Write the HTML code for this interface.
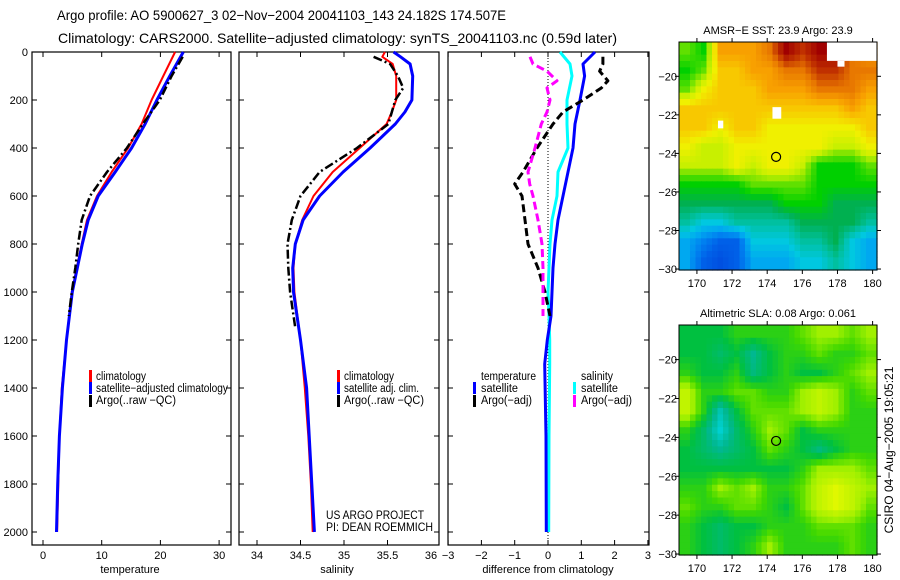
<!DOCTYPE html>
<html><head><meta charset="utf-8"><style>
html,body{margin:0;padding:0;background:#fff;}
svg{display:block;font-family:"Liberation Sans",sans-serif;}
</style></head><body>
<svg id="fig" width="900" height="580" viewBox="0 0 900 580" xmlns="http://www.w3.org/2000/svg">
<text x="57" y="20" font-size="14" textLength="449" lengthAdjust="spacingAndGlyphs">Argo profile: AO 5900627_3 02−Nov−2004 20041103_143 24.182S 174.507E</text>
<text x="58" y="43" font-size="14" textLength="559" lengthAdjust="spacingAndGlyphs">Climatology: CARS2000. Satellite−adjusted climatology: synTS_20041103.nc (0.59d later)</text>
<text transform="translate(893,450) rotate(-90)" text-anchor="middle" font-size="12">CSIRO 04−Aug−2005 19:05:21</text>
<g id="plots"></g>
</svg>
<script>
// ---------- data ----------
const tDepth = [0,100,200,300,400,500,600,700,800,1000,1200,1400,1600,1800,2000];
const tempClim = [22.5,20.5,18.5,16.8,14.5,11.7,9.2,7.5,6.6,4.9,4.0,3.2,2.8,2.6,2.4];
const tempSat  = [23.9,21.6,19.4,17.4,15.1,12.3,9.4,7.7,6.7,5.0,4.0,3.3,2.8,2.5,2.3];
const aDepth = [20,100,200,300,400,500,600,700,800,900,1000,1100];
const tempArgo = [23.8,21.9,19.9,17.0,14.3,10.9,8.0,6.6,6.0,5.5,4.9,4.4];
const sDepth = [0,20,50,100,200,250,300,400,500,600,700,800,900,1000,1200,1400,1600,1800,2000];
const salClim = [35.47,35.44,35.56,35.60,35.60,35.55,35.49,35.18,34.87,34.65,34.52,34.44,34.42,34.43,34.50,34.55,34.59,34.62,34.64];
const salSat  = [35.57,35.65,35.76,35.79,35.78,35.70,35.59,35.30,34.99,34.72,34.53,34.44,34.41,34.42,34.50,34.57,34.60,34.63,34.66];
const saDepth = [20,50,100,150,200,300,400,500,600,700,800,900,1000,1150];
const salArgo = [35.34,35.53,35.62,35.68,35.59,35.51,35.15,34.72,34.50,34.40,34.35,34.36,34.38,34.44];
const dDepth = [0,50,100,200,300,400,500,600,700,800,900,1000,1100,1200,1300,1600,2000];
const dTempSat = [1.41,1.05,1.10,0.96,0.81,0.75,0.60,0.45,0.30,0.21,0.15,0.12,0.09,-0.02,-0.10,-0.06,-0.05];
const dSalSat  = [0.36,0.66,0.72,0.57,0.57,0.60,0.30,0.27,0.12,0.06,0.03,0.00,0.03,0.05,0.05,0.03,0.02];
const daDepth = [20,50,80,120,150,200,250,300,400,500,550,600,700,800,900,1000,1100];
const dTempArgo = [1.65,1.65,1.55,1.80,1.60,1.05,0.45,0.15,-0.33,-0.75,-1.00,-0.78,-0.69,-0.60,-0.30,-0.09,0.06];
const dSalArgo  = [-0.54,-0.45,-0.03,0.27,-0.03,0.06,-0.03,-0.20,-0.39,-0.60,-0.55,-0.45,-0.30,-0.18,-0.15,-0.15,-0.15];
const depthTicks = [0,200,400,600,800,1000,1200,1400,1600,1800,2000];
const tempTicks = [0,10,20,30];
const salTicks = [34,34.5,35,35.5,36];
const salTickLabels = ["34","34.5","35","35.5","36"];
const diffTicks = [-3,-2,-1,0,1,2,3];
const latTicks = [-20,-22,-24,-26,-28,-30];
const lonTicks = [170,172,174,176,178,180];
const sstGrid = [
[23,22.5,25,25,25,25.5,26.5,26,26.5,26.5,25.5,25],
[22.5,23,24.5,24.5,25,25,25.5,25.5,26,26,25.5,25.5],
[23,24,24.5,24.5,24.5,25,25,25,25.5,25.5,25.5,25],
[24.5,24.5,24.5,24.5,24.5,24.5,24.5,24.5,24.5,24.5,25,24.5],
[24.5,24.5,24,24.5,24.5,24,24,24,24,24,24,24.5],
[24,23.5,23.5,24,24,24,24,24,24,23.5,23.5,24],
[23.5,23.5,23.5,24,23.5,24,24,23.5,22.5,22.5,22.5,23],
[22.5,22.5,22.5,22.5,23,23,23,23,22.5,22.5,22.5,22.5],
[22,22,22,22,22,22,22.5,22.5,22.5,22,22,22],
[21.5,21,21,21.5,21.5,21.5,21.5,22,22,22,22,21.5],
[20.5,20,19.5,19.5,21,21,21,21.5,21.5,22,21,20.5],
[20.5,19.5,19,19.5,20.5,20.5,20.5,21,21,21.5,21,20.5]];
const slaGrid = [
[0.02,0.02,0.02,0.04,0.04,0.04,0.04,0.06,0.08,0.08,0.06,0.08],
[0.02,0.02,0.0,0.02,-0.02,0.02,0.04,0.04,0.06,0.04,0.04,0.06],
[0.04,0.02,0.02,0.04,-0.01,0.02,0.04,0.02,0.02,0.04,0.06,0.08],
[0.10,0.04,0.04,0.06,0.06,0.04,0.04,0.08,0.10,0.08,0.04,0.06],
[0.10,0.04,-0.04,0.02,0.06,0.06,0.06,0.08,0.10,0.08,0.04,0.04],
[0.04,0.0,-0.06,0.0,0.04,0.08,0.06,0.02,0.04,0.04,0.04,0.04],
[0.02,0.0,-0.02,0.0,0.02,0.06,0.04,0.02,-0.01,0.02,0.04,0.04],
[0.02,0.02,0.02,0.02,0.02,0.02,0.02,0.04,0.08,0.08,0.08,0.06],
[0.04,0.04,0.08,0.06,0.08,0.04,0.04,0.06,0.10,0.12,0.10,0.08],
[0.06,0.04,0.04,0.06,0.06,0.04,0.02,0.06,0.10,0.12,0.10,0.06],
[0.04,0.02,0.0,0.02,0.02,0.04,0.04,0.04,0.06,0.06,0.06,0.04],
[0.04,0.02,0.0,0.02,0.04,0.08,0.04,0.04,0.04,0.04,0.06,0.04]];
const floatLon = 174.507, floatLat = -24.182;

// ---------- helpers ----------
const NS = "http://www.w3.org/2000/svg";
const root = document.getElementById('plots');
function mk(tag, attrs, parent){const e=document.createElementNS(NS,tag);for(const k in attrs)e.setAttribute(k,attrs[k]);(parent||root).appendChild(e);return e;}
const yD = d => 52 + d*0.24;
function polyline(xs, ds, fx, color, w, dash, name){
  const pts = xs.map((v,i)=>fx(v).toFixed(1)+','+yD(ds[i]).toFixed(1)).join(' ');
  const p = mk('polyline',{points:pts,fill:'none',stroke:color,'stroke-width':w,'stroke-linejoin':'round'});
  if(dash) p.setAttribute('stroke-dasharray',dash);
  
  
}
function frame(x0,x1,name){
  const r = mk('rect',{x:x0,y:52,width:x1-x0,height:493,fill:'none',stroke:'#000','stroke-width':1.2});
  
  
}
function xTicks(vals, labels, fx, axisName){
  vals.forEach((v,i)=>{
    const x=fx(v);
    mk('line',{x1:x,x2:x,y1:545,y2:540,stroke:'#000'});
    mk('line',{x1:x,x2:x,y1:52,y2:57,stroke:'#000'});
    const t=mk('text',{x:x,y:559,'font-size':11,'text-anchor':'middle'});
    t.textContent=labels[i];
    
    
  });
}
function yTickMarks(x0,x1){
  depthTicks.forEach(d=>{const y=yD(d);mk('line',{x1:x0,x2:x0+5,y1:y,y2:y,stroke:'#000'});mk('line',{x1:x1,x2:x1-5,y1:y,y2:y,stroke:'#000'});});
}
function label(x,y,txt,name,size,anchor,len){
  const t=mk('text',{x:x,y:y,'font-size':size||10.5,'text-anchor':anchor||'start'});
  if(len){t.setAttribute('textLength',len);t.setAttribute('lengthAdjust','spacingAndGlyphs');}
  t.textContent=txt;
  
  
  return t;
}
function legendSwatch(x,y,color,name){
  const r=mk('rect',{x:x,y:y-10,width:3,height:12,fill:color});
  
  
}

// ---------- temperature panel ----------
const xT = v => 43 + v*5.87;
frame(32,231,'temperature-panel-frame');
yTickMarks(32,231);
depthTicks.forEach(d=>{label(28,yD(d)+4,String(d),'depth-tick-label',11,'end');});
xTicks(tempTicks, tempTicks.map(String), xT, 'temperature');
label(130,573,'temperature','temperature-axis-title',11,'middle');
polyline(tempClim,tDepth,xT,'#ff0000',2,null,'temperature-climatology-line');
polyline(tempSat,tDepth,xT,'#0000ff',3,null,'temperature-satellite-line');
polyline(tempArgo,aDepth,xT,'#000000',2.5,'9,3,2,3','temperature-argo-line');
legendSwatch(89,380,'#ff0000','legend-climatology-swatch');
label(96,380,'climatology','legend-climatology',11.5,'start',50);
legendSwatch(89,392,'#0000ff','legend-satellite-swatch');
label(96,392,'satellite−adjusted climatology','legend-satellite',11.5,'start',132);
legendSwatch(89,405,'#000','legend-argo-swatch');
label(96,404,'Argo(..raw −QC)','legend-argo',11.5,'start',80);

// ---------- salinity panel ----------
const xS = v => 257 + (v-34)*87;
frame(239,439,'salinity-panel-frame');
yTickMarks(239,439);
xTicks(salTicks.slice(0,4), salTickLabels.slice(0,4), xS, 'salinity');
label(431,559,salTickLabels[4],'salinity-tick-label',11,'middle');
label(337,573,'salinity','salinity-axis-title',11,'middle');
polyline(salClim,sDepth,xS,'#ff0000',2,null,'salinity-climatology-line');
polyline(salSat,sDepth,xS,'#0000ff',3,null,'salinity-satellite-line');
polyline(salArgo,saDepth,xS,'#000000',2.5,'9,3,2,3','salinity-argo-line');
legendSwatch(337,380,'#ff0000','legend-sal-climatology-swatch');
label(344,380,'climatology','legend-sal-climatology',11.5,'start',50);
legendSwatch(337,392,'#0000ff','legend-sal-satellite-swatch');
label(344,392,'satellite adj. clim.','legend-sal-satellite',11.5,'start',75);
legendSwatch(337,405,'#000','legend-sal-argo-swatch');
label(344,404,'Argo(..raw −QC)','legend-sal-argo',11.5,'start',80);
label(326,519,'US ARGO PROJECT','project-label',12,'start',98);
label(326,531,'PI: DEAN ROEMMICH','pi-label',12,'start',107);

// ---------- difference panel ----------
const xDf = v => 548 + v*33.3;
frame(448,649,'difference-panel-frame');
yTickMarks(448,649);
xTicks(diffTicks, diffTicks.map(v=>v<0?'−'+(-v):String(v)), xDf, 'difference');
label(548,573,'difference from climatology','difference-axis-title',11,'middle');
const zl=mk('line',{x1:548,x2:548,y1:52,y2:540,stroke:'#000','stroke-width':1,'stroke-dasharray':'1,2'});


polyline(dSalSat,dDepth,xDf,'#00ffff',3,null,'diff-salinity-satellite-line');
polyline(dTempSat,dDepth,xDf,'#0000ff',3,null,'diff-temperature-satellite-line');
polyline(dTempArgo,daDepth,xDf,'#000000',3,'8,4','diff-temperature-argo-line');
polyline(dSalArgo,daDepth,xDf,'#ff00ff',3,'8,4','diff-salinity-argo-line');
label(481,380,'temperature','legend-temperature-header',11.5,'start',55);
legendSwatch(473,392,'#0000ff','legend-diff-temp-sat-swatch');
label(481,392,'satellite','legend-diff-temp-sat',11.5,'start',37);
legendSwatch(473,405,'#000','legend-diff-temp-argo-swatch');
label(481,404,'Argo(−adj)','legend-diff-temp-argo',11.5,'start',51);
label(581,380,'salinity','legend-salinity-header',11.5,'start',32);
legendSwatch(573,392,'#00ffff','legend-diff-sal-sat-swatch');
label(581,392,'satellite','legend-diff-sal-sat',11.5,'start',37);
legendSwatch(573,405,'#ff00ff','legend-diff-sal-argo-swatch');
label(581,404,'Argo(−adj)','legend-diff-sal-argo',11.5,'start',51);

// ---------- maps ----------
function rgb(h){return [parseInt(h.substr(1,2),16),parseInt(h.substr(3,2),16),parseInt(h.substr(5,2),16)];}
function lerpColor(stops, v){
  let c=stops[stops.length-1][1];
  if(v<=stops[0][0]) c=stops[0][1];
  else for(let i=1;i<stops.length;i++){
    if(v<=stops[i][0]){
      const a=stops[i-1],b=stops[i],t=(v-a[0])/(b[0]-a[0]);
      c=[0,1,2].map(k=>Math.round(a[1][k]+(b[1][k]-a[1][k])*t));
      break;
    }
  }
  return 'rgb('+c.join(',')+')';
}
const sstStops=[[19,'#0050e0'],[19.5,'#0060e8'],[20,'#0080f0'],[20.5,'#00a8f0'],[21,'#00c8e0'],[21.5,'#00c0a0'],[22,'#00b050'],[22.5,'#00d000'],[23,'#60e000'],[23.5,'#c8f000'],[24,'#f0f000'],[24.5,'#f8c800'],[25,'#f8a000'],[25.5,'#e87800'],[26,'#c03000'],[26.5,'#a00000']].map(s=>[s[0],rgb(s[1])]);
const slaStops=[[-0.06,'#00d0d0'],[-0.02,'#00b890'],[0.02,'#00c040'],[0.05,'#40d800'],[0.08,'#a0f000'],[0.12,'#e0f800']].map(s=>[s[0],rgb(s[1])]);

function drawMap(x0,x1,y0,y1,grid,stops,title,name,holes){
  const g=mk('g',{});
  
  
  const lonMin=168.98, lonMax=180.25, latTop=-18.22, latBot=-30.05;
  const fx=lon=>x0+(lon-lonMin)/(lonMax-lonMin)*(x1-x0);
  const fy=lat=>y0+(latTop-lat)/(latTop-latBot)*(y1-y0);
  const rows=grid.length, cols=grid[0].length, sub=3;
  const R=rows*sub, C=cols*sub, cw=(x1-x0)/C, ch=(y1-y0)/R;
  function sample(r,c){
    const gr=Math.min(Math.max((r+0.5)/sub-0.5,0),rows-1), gc=Math.min(Math.max((c+0.5)/sub-0.5,0),cols-1);
    const r0=Math.floor(gr), c0=Math.floor(gc), r1=Math.min(r0+1,rows-1), c1=Math.min(c0+1,cols-1);
    const tr=gr-r0, tc=gc-c0;
    return grid[r0][c0]*(1-tr)*(1-tc)+grid[r0][c1]*(1-tr)*tc+grid[r1][c0]*tr*(1-tc)+grid[r1][c1]*tr*tc;
  }
  for(let r=0;r<R;r++)for(let c=0;c<C;c++){
    const cell=mk('rect',{x:(x0+c*cw).toFixed(2),y:(y0+r*ch).toFixed(2),width:(cw+0.6).toFixed(2),height:(ch+0.6).toFixed(2),fill:lerpColor(stops,sample(r,c))},g);
    
    
  }
  (holes||[]).forEach(h=>{mk('rect',{x:fx(h[0]),y:fy(h[1]),width:fx(h[2])-fx(h[0]),height:fy(h[3])-fy(h[1]),fill:'#fff'},g);});
  mk('rect',{x:x0,y:y0,width:x1-x0,height:y1-y0,fill:'none',stroke:'#000'},g);
  latTicks.forEach(l=>{const y=fy(l);mk('line',{x1:x0-4,x2:x0,y1:y,y2:y,stroke:'#000'},g);mk('line',{x1:x1,x2:x1+4,y1:y,y2:y,stroke:'#000'},g);
    g.appendChild(label(x0-2,y+4,'−'+(-l),'map-lat-tick-label',11,'end'));});
  lonTicks.forEach(l=>{const x=fx(l);mk('line',{x1:x,x2:x,y1:y1,y2:y1+4,stroke:'#000'},g);mk('line',{x1:x,x2:x,y1:y0,y2:y0-4,stroke:'#000'},g);
    g.appendChild(label(x,y1+17,String(l),'map-lon-tick-label',11,'middle'));});
  g.appendChild(label((x0+x1)/2,y0-8,title,name+'-title',11,'middle'));
  const c=mk('circle',{cx:fx(floatLon),cy:fy(floatLat),r:4.5,fill:'none',stroke:'#000','stroke-width':1.2},g);
  
  
}
drawMap(679,877,42,270,sstGrid,sstStops,'AMSR−E SST: 23.9 Argo: 23.9','sst-map',[[174.3,-21.6,174.8,-22.2],[177.4,-18.22,180.25,-19.2],[178.0,-19.2,178.4,-19.5],[171.2,-22.3,171.5,-22.7]]);
drawMap(679,877,325,555,slaGrid,slaStops,'Altimetric SLA: 0.08 Argo: 0.061','sla-map',[]);
</script>
</body></html>
